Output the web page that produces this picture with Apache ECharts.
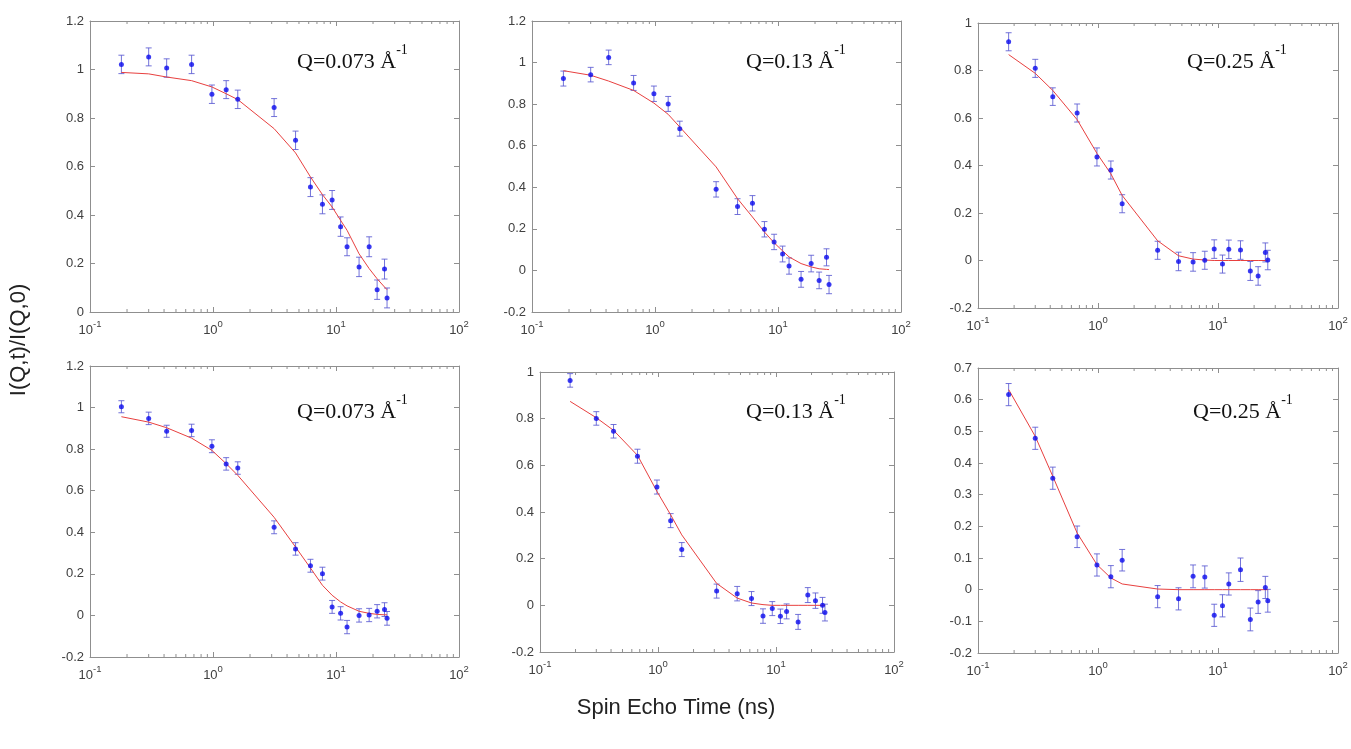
<!DOCTYPE html>
<html><head><meta charset="utf-8">
<script src="https://cdn.jsdelivr.net/npm/echarts@6/dist/echarts.min.js"></script>
<style>html,body{margin:0;padding:0;background:#fff}#c{width:1351px;height:749px}</style>
</head><body><div id="c"></div>
<script>
// Spin echo times (ns), shared by all panels
const times = [0.18, 0.30, 0.42, 0.67, 0.98, 1.28, 1.59, 3.14, 4.69, 6.2, 7.76, 9.3, 10.9, 12.3, 15.4, 18.6, 21.6, 24.8, 26.0];

const p1Values = [1.021, 1.052, 1.006, 1.021, 0.898, 0.917, 0.877, 0.843, 0.708, 0.515, 0.444, 0.462, 0.352, 0.269, 0.186, 0.269, 0.092, 0.177, 0.058];
const p1Errors = [0.038,0.037,0.038,0.038,0.038,0.037,0.038,0.037,0.038,0.039,0.039,0.039,0.040,0.037,0.040,0.041,0.040,0.041,0.041];
const p1Fit    = [0.988, 0.982, 0.969, 0.954, 0.928, 0.900, 0.876, 0.756, 0.656, 0.557, 0.484, 0.433, 0.378, 0.337, 0.240, 0.179, 0.137, 0.103, 0.092];

const p2Values = [0.923, 0.942, 1.025, 0.902, 0.850, 0.801, 0.682, 0.390, 0.307, 0.323, 0.198, 0.137, 0.079, 0.021, -0.043, 0.033, -0.048, 0.063, -0.068];
const p2Errors = [0.036,0.035,0.035,0.036,0.037,0.036,0.036,0.037,0.038,0.037,0.037,0.037,0.038,0.039,0.038,0.040,0.040,0.041,0.044];
const p2Fit    = [0.961, 0.939, 0.911, 0.866, 0.805, 0.751, 0.690, 0.498, 0.345, 0.257, 0.185, 0.133, 0.094, 0.065, 0.033, 0.017, 0.008, 0.005, 0.004];

const p3Values = [0.921, 0.809, 0.690, 0.621, 0.436, 0.381, 0.239, 0.043, -0.004, -0.006, 0.001, 0.048, -0.015, 0.047, 0.044, -0.044, -0.065, 0.034, 0.002];
const p3Errors = [0.038,0.038,0.037,0.038,0.038,0.038,0.038,0.038,0.039,0.039,0.038,0.039,0.038,0.039,0.039,0.040,0.039,0.040,0.041];
const p3Fit    = [0.867, 0.788, 0.716, 0.593, 0.451, 0.365, 0.274, 0.083, 0.020, 0.006, 0.002, 0.000, 0.000, 0.000, 0.000, 0.000, 0.000, 0.000, 0.000];

const p4Values = [1.004, 0.948, 0.886, 0.890, 0.814, 0.729, 0.709, 0.424, 0.320, 0.239, 0.201, 0.041, 0.010, -0.056, 0.000, 0.002, 0.020, 0.028, -0.014];
const p4Errors = [0.029,0.030,0.029,0.030,0.031,0.030,0.030,0.031,0.030,0.031,0.031,0.031,0.032,0.032,0.032,0.032,0.032,0.033,0.033];
const p4Fit    = [0.956, 0.930, 0.903, 0.853, 0.794, 0.730, 0.674, 0.472, 0.329, 0.228, 0.145, 0.097, 0.065, 0.046, 0.020, 0.010, 0.005, 0.003, 0.003];

const p5Values = [0.964, 0.801, 0.746, 0.639, 0.507, 0.363, 0.239, 0.061, 0.050, 0.029, -0.046, -0.014, -0.047, -0.026, -0.071, 0.044, 0.020, 0.000, -0.031];
const p5Errors = [0.029,0.029,0.029,0.030,0.030,0.030,0.030,0.030,0.031,0.030,0.031,0.030,0.031,0.032,0.032,0.032,0.033,0.034,0.036];
const p5Fit    = [0.874, 0.804, 0.750, 0.643, 0.488, 0.388, 0.302, 0.094, 0.031, 0.010, 0.003, 0.000, 0.000, 0.000, 0.000, 0.000, 0.000, 0.000, 0.000];

const p6Values = [0.616, 0.478, 0.352, 0.167, 0.078, 0.041, 0.093, -0.022, -0.029, 0.042, 0.040, -0.081, -0.051, 0.018, 0.063, -0.094, -0.039, 0.007, -0.035];
const p6Errors = [0.035,0.035,0.035,0.034,0.035,0.035,0.034,0.035,0.035,0.036,0.035,0.035,0.035,0.035,0.037,0.036,0.036,0.035,0.036];
const p6Fit    = [0.632, 0.484, 0.358, 0.179, 0.079, 0.037, 0.018, 0.002, 0.000, 0.000, 0.000, 0.000, 0.000, 0.000, 0.000, 0.000, 0.000, 0.000, 0.000];

const panelLabels = ['Q=0.073 Å', 'Q=0.13 Å', 'Q=0.25 Å', 'Q=0.073 Å', 'Q=0.13 Å', 'Q=0.25 Å'];
const panelLabelSup = '-1';
const yMins = [0, -0.2, -0.2, -0.2, -0.2, -0.2];
const yMaxs = [1.2, 1.2, 1, 1.2, 1, 0.7];
const ySteps = [0.2, 0.2, 0.2, 0.2, 0.2, 0.1];
const xMin = 0.1, xMax = 100;
const minorTickValues = [0.2,0.3,0.4,0.5,0.6,0.7,0.8,0.9, 2,3,4,5,6,7,8,9, 20,30,40,50,60,70,80,90];
const yAxisTitle = 'I(Q,t)/I(Q,0)';
const xAxisTitle = 'Spin Echo Time (ns)';

const panels = [
  {v: p1Values, e: p1Errors, f: p1Fit},
  {v: p2Values, e: p2Errors, f: p2Fit},
  {v: p3Values, e: p3Errors, f: p3Fit},
  {v: p4Values, e: p4Errors, f: p4Fit},
  {v: p5Values, e: p5Errors, f: p5Fit},
  {v: p6Values, e: p6Errors, f: p6Fit}
];

// layout
const gridBoxes = [
  {left: 90,  top: 21,  width: 369, height: 291},
  {left: 532, top: 21,  width: 369, height: 291},
  {left: 978, top: 23,  width: 360, height: 285},
  {left: 90,  top: 366, width: 369, height: 291},
  {left: 540, top: 372, width: 354, height: 280},
  {left: 978, top: 368, width: 360, height: 285}
];
const labelPos = [
  [292, 38], [741, 38], [1182, 38], [292, 388], [741, 388], [1188, 388]
];

const FRAME = '#8f8f8f';
const TXT = '#404040';
const ERR = '#5a5ad2';

const grid = [], xAxis = [], yAxis = [], series = [], title = [];

panels.forEach((p, i) => {
  grid.push(Object.assign({containLabel: false}, gridBoxes[i]));
  const xBase = {
    type: 'log', logBase: 10, min: xMin, max: xMax, gridIndex: i,
    axisLine: {show: true, onZero: false, lineStyle: {color: FRAME, width: 1}},
    axisTick: {show: true, inside: true, length: 5, lineStyle: {color: FRAME}},
    splitLine: {show: false}, minorTick: {show: false}
  };
  xAxis.push(Object.assign({}, xBase, {
    position: 'bottom',
    axisLabel: {
      show: true, margin: 7,
      formatter: function (val) {
        const ex = Math.round(Math.log10(val));
        return '{b|10}{s|' + ex + '}';
      },
      rich: {
        b: {fontSize: 13, fontFamily: 'Liberation Sans, Arial', color: TXT, lineHeight: 18, verticalAlign: 'bottom'},
        s: {fontSize: 9.5, fontFamily: 'Liberation Sans, Arial', color: TXT, lineHeight: 18, verticalAlign: 'top', padding: [0,0,8,0]}
      }
    }
  }));
  xAxis.push(Object.assign({}, xBase, {position: 'top', axisLabel: {show: false}}));
  const yBase = {
    type: 'value', min: yMins[i], max: yMaxs[i], interval: ySteps[i], gridIndex: i,
    axisLine: {show: true, onZero: false, lineStyle: {color: FRAME, width: 1}},
    axisTick: {show: true, inside: true, length: 5, lineStyle: {color: FRAME}},
    splitLine: {show: false}
  };
  yAxis.push(Object.assign({}, yBase, {
    position: 'left',
    axisLabel: {
      show: true, margin: 6, color: TXT, fontSize: 13, fontFamily: 'Liberation Sans, Arial',
      formatter: v => String(+v.toFixed(2))
    }
  }));
  yAxis.push(Object.assign({}, yBase, {position: 'right', axisLabel: {show: false}}));

  const xi = i * 2, yi = i * 2;
  // error bars
  series.push({
    type: 'custom', xAxisIndex: xi, yAxisIndex: yi, silent: true, clip: false,
    data: times.map((t, k) => [t, p.v[k] - p.e[k], p.v[k] + p.e[k]]),
    encode: {x: 0, y: [1, 2]},
    renderItem: function (params, api) {
      const x = api.value(0);
      const lo = api.coord([x, api.value(1)]);
      const hi = api.coord([x, api.value(2)]);
      const c = 3;
      const st = {stroke: ERR, lineWidth: 1, opacity: 0.85};
      return {type: 'group', children: [
        {type: 'line', shape: {x1: lo[0], y1: lo[1], x2: hi[0], y2: hi[1]}, style: st},
        {type: 'line', shape: {x1: lo[0] - c, y1: lo[1], x2: lo[0] + c, y2: lo[1]}, style: st},
        {type: 'line', shape: {x1: hi[0] - c, y1: hi[1], x2: hi[0] + c, y2: hi[1]}, style: st}
      ]};
    },
    z: 2
  });
  // fit line
  series.push({
    type: 'line', xAxisIndex: xi, yAxisIndex: yi, silent: true,
    data: times.map((t, k) => [t, p.f[k]]),
    showSymbol: false, symbol: 'none',
    lineStyle: {color: '#e8403f', width: 1},
    z: 3
  });
  // data points
  series.push({
    type: 'scatter', xAxisIndex: xi, yAxisIndex: yi, silent: true,
    data: times.map((t, k) => [t, p.v[k]]),
    symbol: 'circle', symbolSize: 5,
    itemStyle: {color: '#0a0aee'},
    z: 4
  });
  // minor log ticks on bottom and top
  const yLo = yMins[i], yHi = yMaxs[i];
  series.push({
    type: 'custom', xAxisIndex: xi, yAxisIndex: yi, silent: true, clip: false,
    data: minorTickValues.map(v => [v, yLo]),
    encode: {x: 0, y: 1},
    renderItem: function (params, api) {
      const v = api.value(0);
      const b = api.coord([v, yLo]);
      const t = api.coord([v, yHi]);
      const st = {stroke: FRAME, lineWidth: 1};
      return {type: 'group', children: [
        {type: 'line', shape: {x1: b[0], y1: b[1], x2: b[0], y2: b[1] - 3}, style: st},
        {type: 'line', shape: {x1: t[0], y1: t[1], x2: t[0], y2: t[1] + 3}, style: st}
      ]};
    },
    z: 1
  });

  title.push({
    text: '{m|' + panelLabels[i] + '}{s|' + panelLabelSup + '}',
    left: labelPos[i][0], top: labelPos[i][1],
    textStyle: {
      fontWeight: 'normal',
      rich: {
        m: {fontFamily: 'Liberation Serif, Times New Roman, serif', fontWeight: 'normal', fontSize: 22, color: '#111', lineHeight: 30, verticalAlign: 'bottom'},
        s: {fontFamily: 'Liberation Serif, Times New Roman, serif', fontWeight: 'normal', fontSize: 14, color: '#111', lineHeight: 30, verticalAlign: 'top', padding: [0,0,12,0]}
      }
    }
  });
});

const chart = echarts.init(document.getElementById('c'), null, {renderer: 'canvas'});
chart.setOption({
  animation: false,
  backgroundColor: '#ffffff',
  title: title,
  grid: grid, xAxis: xAxis, yAxis: yAxis, series: series,
  graphic: [
    {type: 'text', x: 19, y: 340, rotation: Math.PI / 2,
     style: {text: yAxisTitle, font: '22px "Liberation Sans", Arial, sans-serif', fill: '#222', textAlign: 'center', textVerticalAlign: 'middle'}},
    {type: 'text', x: 676, y: 708,
     style: {text: xAxisTitle, font: '22px "Liberation Sans", Arial, sans-serif', fill: '#222', textAlign: 'center', textVerticalAlign: 'middle'}}
  ]
});
</script></body></html>
